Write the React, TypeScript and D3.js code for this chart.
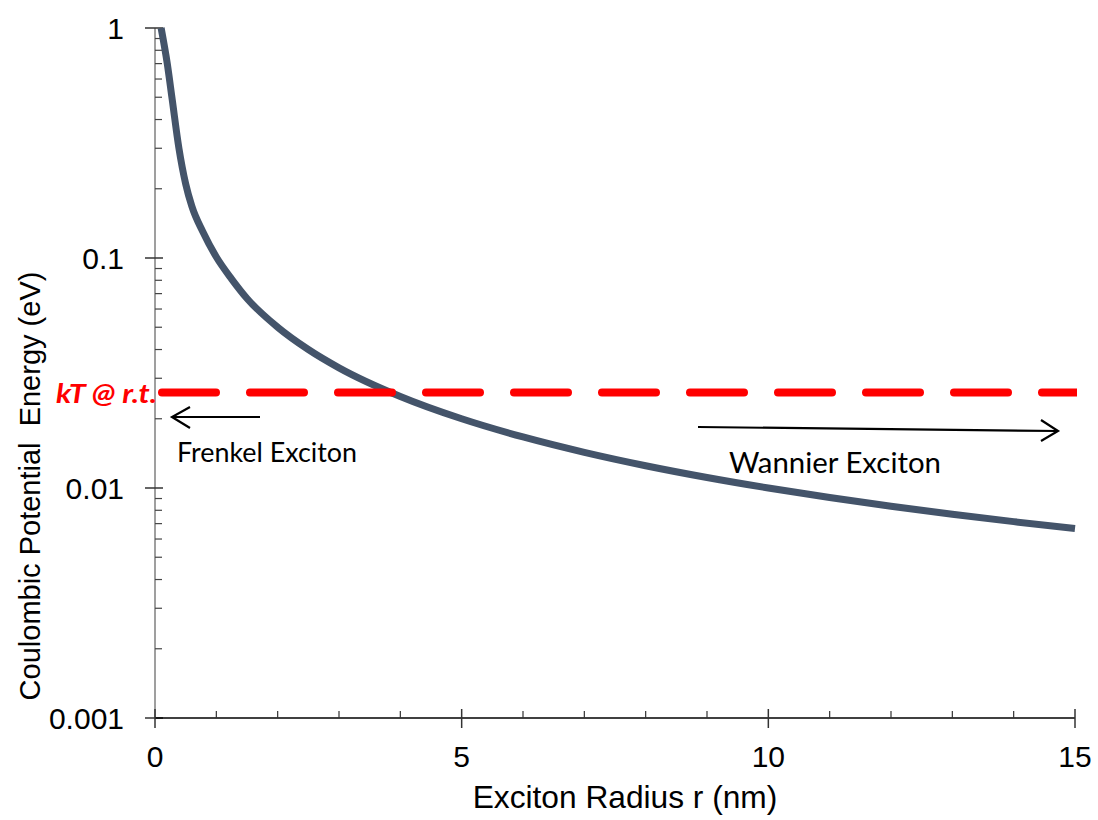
import React from "react";
import * as d3 from "d3";

const radiusNm = [0.1, 0.2, 0.28, 0.39, 0.5, 0.6, 0.78, 1, 1.25, 1.5, 2, 2.5, 3, 4, 5, 6, 7, 8, 9, 10, 11, 12, 13, 14, 15];
const energyEv = [1.0, 0.70, 0.49, 0.30, 0.21, 0.168, 0.13, 0.101, 0.081, 0.0667, 0.05, 0.04, 0.0333, 0.025, 0.02, 0.01667, 0.01429, 0.0125, 0.01111, 0.01, 0.00909, 0.00833, 0.00769, 0.00714, 0.00667];
const kTroomEv = 0.026;
const xMajorTicks = [0, 5, 10, 15];
const xMinorTicks = [1, 2, 3, 4, 6, 7, 8, 9, 11, 12, 13, 14];
const yMajorTicks = [1, 0.1, 0.01, 0.001];
const yTickLabels = ["1", "0.1", "0.01", "0.001"];

const W = 1098;
const H = 820;
const L = 155, R = 1075, T = 28, B = 718;

export default function App() {
  const x = d3.scaleLinear().domain([0, 15]).range([L, R]);
  const y = d3.scaleLog().domain([0.001, 1]).range([B, T]);

  const yMinor: number[] = [];
  [0.001, 0.01, 0.1].forEach((d) => {
    for (let k = 2; k <= 9; k++) yMinor.push(d * k);
  });

  const pts = radiusNm.map((r, i) => [r, energyEv[i]] as [number, number]);
  const line = d3
    .line<[number, number]>()
    .x((d) => x(d[0]))
    .y((d) => y(d[1]))
    .curve(d3.curveMonotoneX);

  const kY = y(kTroomEv);
  const arial = "'Liberation Sans', Arial, sans-serif";
  const calibri = "Lato, 'Open Sans', sans-serif";

  return (
    <svg width={W} height={H} style={{ position: "absolute", left: 0, top: 0, background: "#fff" }}>
      <defs>
        <clipPath id="plot">
          <rect x={L} y={T - 10} width={R - L + 2} height={B - T + 10} />
        </clipPath>
      </defs>
      {/* Y axis */}
      <line x1={L} x2={L} y1={T} y2={B} stroke="#7f7f7f" strokeWidth={1.5} />
      {yMinor.map((v, i) => (
        <line key={"ym" + i} x1={L} x2={L + 7} y1={y(v)} y2={y(v)} stroke="#444" strokeWidth={1.2} />
      ))}
      {yMajorTicks.map((v, i) => (
        <g key={"yM" + i}>
          <line x1={L - 10} x2={L + 8} y1={y(v)} y2={y(v)} stroke="#333" strokeWidth={1.5} />
          <text x={124} y={y(v)} dy="0.36em" textAnchor="end" style={{ fontFamily: arial, fontSize: "30px" }} fill="#000">
            {yTickLabels[i]}
          </text>
        </g>
      ))}
      {/* X axis */}
      <line x1={L} x2={R} y1={B} y2={B} stroke="#000" strokeWidth={1.5} />
      {xMinorTicks.map((v, i) => (
        <line key={"xm" + i} x1={x(v)} x2={x(v)} y1={B - 7} y2={B} stroke="#333" strokeWidth={1.2} />
      ))}
      {xMajorTicks.map((v, i) => (
        <g key={"xM" + i}>
          <line x1={x(v)} x2={x(v)} y1={B - 9} y2={B + 10} stroke="#333" strokeWidth={1.5} />
          <text x={x(v)} y={767} textAnchor="middle" style={{ fontFamily: arial, fontSize: "30px" }} fill="#000">
            {String(v)}
          </text>
        </g>
      ))}
      {/* Axis titles */}
      <text x={625} y={808} textAnchor="middle" style={{ fontFamily: arial, fontSize: "31.7px" }} fill="#000">
        Exciton Radius r (nm)
      </text>
      <text
        transform={`translate(40, 486) rotate(-90)`}
        textAnchor="middle"
        fill="#000"
        style={{ whiteSpace: "pre", fontFamily: arial, fontSize: "29px" }}
      >
        {"Coulombic Potential  Energy (eV)"}
      </text>

      {/* Curve */}
      <path d={line(pts) || ""} fill="none" stroke="#44546A" strokeWidth={7} clipPath="url(#plot)" />

      {/* kT line */}
      <g clipPath="url(#plot)">
        <line
          x1={162}
          x2={1090}
          y1={kY}
          y2={kY}
          stroke="#FF0000"
          strokeWidth={8}
          strokeLinecap="round"
          strokeDasharray="54 34"
        />
      </g>
      <text x={157} y={403} textAnchor="end" style={{ fontFamily: calibri, fontStyle: "italic", fontWeight: "bold", fontSize: "27px" }} fill="#FF0000" textLength={101} lengthAdjust="spacingAndGlyphs">
        kT @ r.t.
      </text>

      {/* Arrows */}
      <g stroke="#000" strokeWidth={2.2} fill="none">
        <line x1={260} y1={417} x2={172} y2={417} />
        <polyline points="190,407 172,417 190,428" />
        <line x1={698} y1={427} x2={1058} y2={431} />
        <polyline points="1041,420 1058,431 1041,441" />
      </g>
      <text x={177} y={462} style={{ fontFamily: calibri, fontSize: "26px" }} fill="#000" textLength={180} lengthAdjust="spacingAndGlyphs">
        Frenkel Exciton
      </text>
      <text x={729} y={473} style={{ fontFamily: calibri, fontSize: "28px" }} fill="#000" textLength={212} lengthAdjust="spacingAndGlyphs">
        Wannier Exciton
      </text>
    </svg>
  );
}
